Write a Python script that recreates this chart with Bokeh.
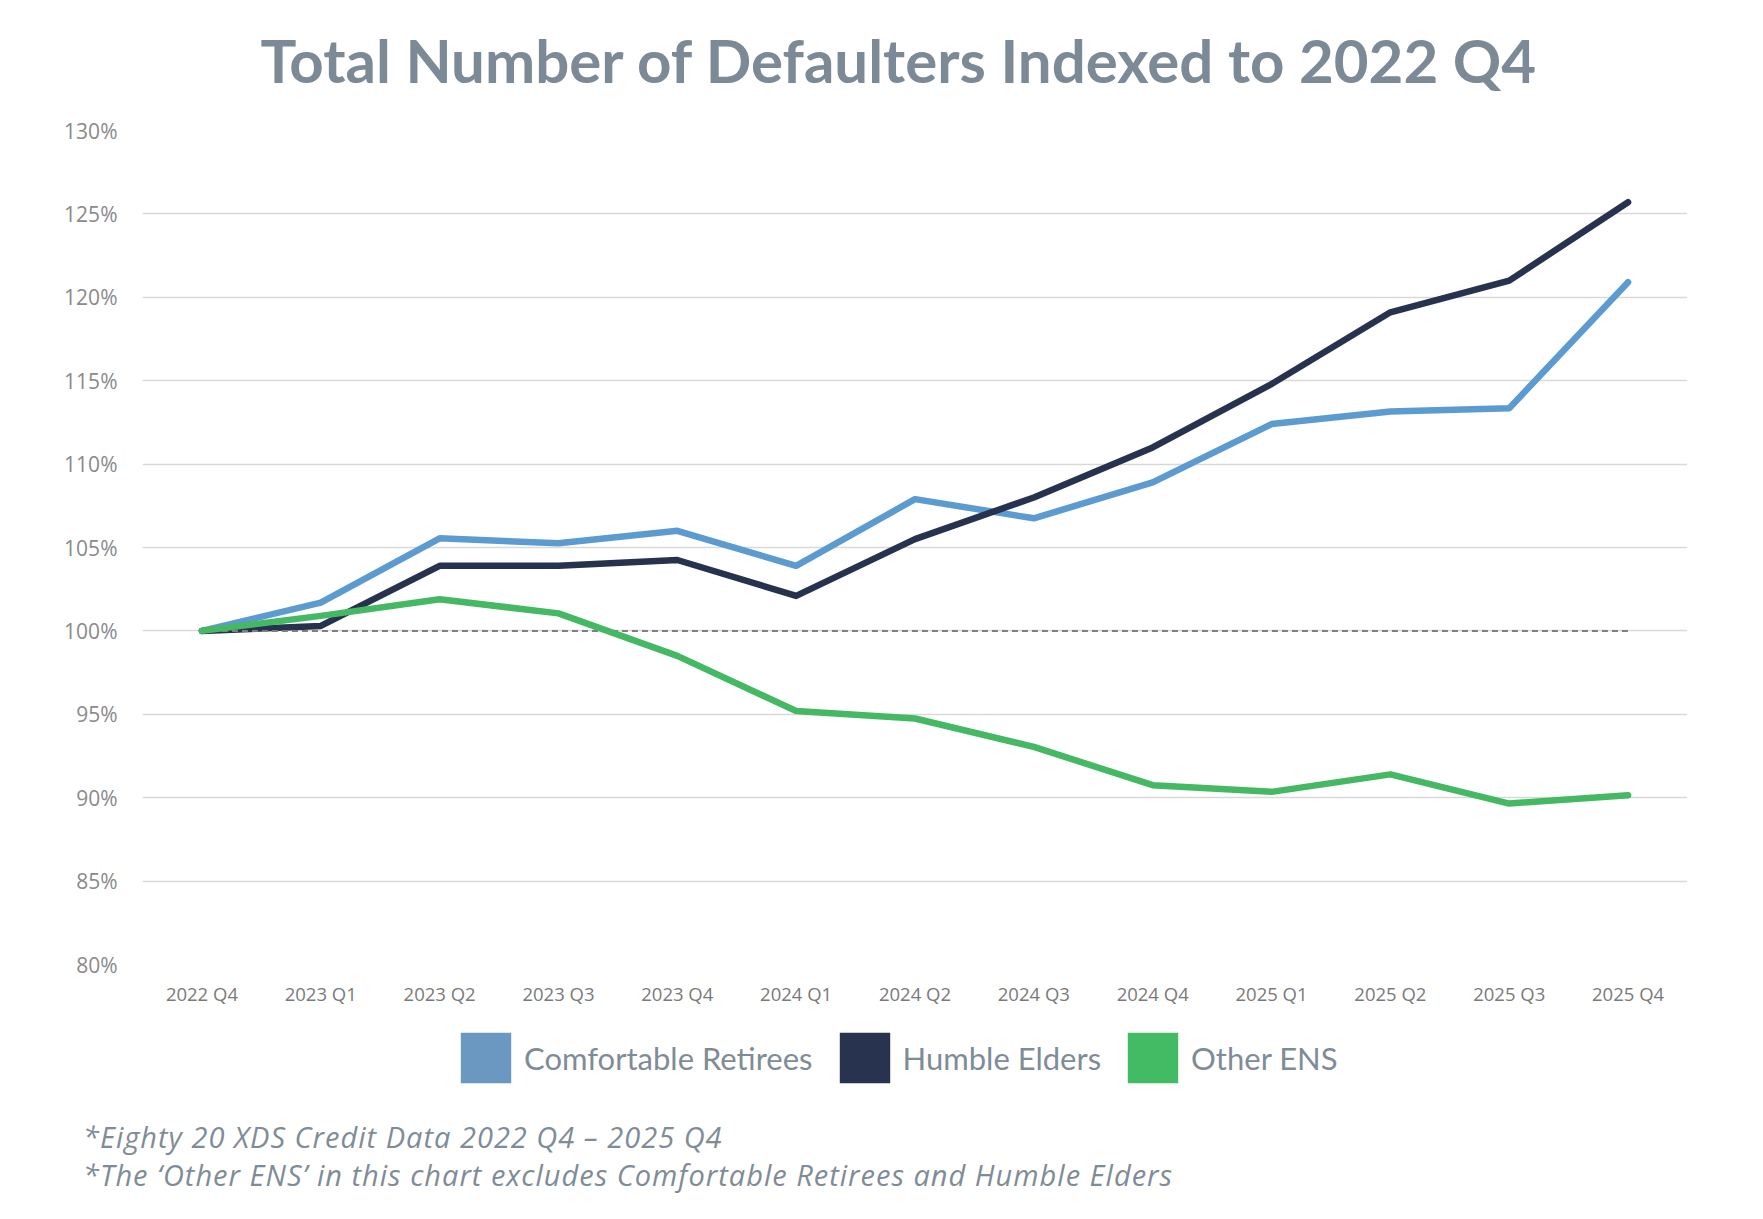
from bokeh.plotting import figure
from bokeh.layouts import column
from bokeh.models import (FactorRange, Range1d, FixedTicker, PrintfTickFormatter,
                          Label, Legend, LegendItem, Div)
from bokeh.core.properties import value
from bokeh.embed import file_html
from bokeh.resources import INLINE

quarters = ["2022 Q4", "2023 Q1", "2023 Q2", "2023 Q3", "2023 Q4", "2024 Q1", "2024 Q2",
            "2024 Q3", "2024 Q4", "2025 Q1", "2025 Q2", "2025 Q3", "2025 Q4"]
comfortable_retirees = [100, 101.7, 105.55, 105.25, 106.0, 103.9, 107.9, 106.75, 108.9,
                        112.4, 113.15, 113.35, 120.9]
humble_elders = [100, 100.3, 103.9, 103.9, 104.25, 102.1, 105.5, 108.0, 111.0,
                 114.8, 119.1, 121.0, 125.7]
other_ens = [100, 100.9, 101.9, 101.05, 98.5, 95.2, 94.75, 93.05, 90.75,
             90.35, 91.4, 89.65, 90.15]
baseline = [100] * len(quarters)
y_ticks = [80, 85, 90, 95, 100, 105, 110, 115, 120, 125, 130]

series_names = ["Comfortable Retirees", "Humble Elders", "Other ENS"]
title_text = "Total Number of Defaulters Indexed to 2022 Q4"
note1 = "*Eighty 20 XDS Credit Data 2022 Q4 \u2013 2025 Q4"
note2 = "*The \u2018Other ENS\u2019 in this chart excludes Comfortable Retirees and Humble Elders"

W = 1747
TOP_H = 110            # title strip: page y 0..110
MAIN_TOP, MAIN_BOTTOM = 110, 1020
LEG_H = 80             # legend strip: page y 1020..1100
NOTE_TOP, NOTE_H = 1100, 100
FL, FR, FT, FB = 142, 1687, 130, 964   # frame edges in page pixels

SLATE = "#7b8a96"
NOTE = "#7f8c97"


def blank_strip(h):
    f = figure(width=W, height=h, x_range=Range1d(FL, FR), y_range=Range1d(0, h),
               x_axis_type=None, y_axis_type=None, output_backend="svg",
               toolbar_location=None, min_border_left=FL, min_border_right=W - FR,
               min_border_top=0, min_border_bottom=0)
    f.outline_line_color = None
    f.xgrid.grid_line_color = None
    f.ygrid.grid_line_color = None
    return f


# ---- title strip
top = blank_strip(TOP_H)
top.add_layout(Label(x=899, y=TOP_H - 59, text=title_text, text_align="center",
                     text_baseline="alphabetic", text_font="Lato", text_font_size="60px",
                     text_font_style="bold", text_color=SLATE))

# ---- main chart
p = figure(width=W, height=MAIN_BOTTOM - MAIN_TOP,
           x_range=FactorRange(*quarters, range_padding=0),
           y_range=Range1d(80, 130), output_backend="svg", toolbar_location=None,
           min_border_left=FL, min_border_right=W - FR,
           min_border_top=FT - MAIN_TOP, min_border_bottom=MAIN_BOTTOM - FB)
p.outline_line_color = None

p.yaxis.ticker = FixedTicker(ticks=y_ticks)
p.yaxis.formatter = PrintfTickFormatter(format="%d%%")
p.yaxis.axis_line_color = None
p.yaxis.major_tick_line_color = None
p.yaxis.minor_tick_line_color = None
p.yaxis.major_label_standoff = 19
p.yaxis.major_label_text_font = "Open Sans"
p.yaxis.major_label_text_font_size = "21px"
p.yaxis.major_label_text_color = "#8a8a8a"

p.xaxis.axis_line_color = None
p.xaxis.major_tick_line_color = None
p.xaxis.minor_tick_line_color = None
p.xaxis.major_label_standoff = 10
p.xaxis.major_label_text_font = "Open Sans"
p.xaxis.major_label_text_font_size = "18.5px"
p.xaxis.major_label_text_color = "#7a7a7a"

p.xgrid.grid_line_color = None
p.ygrid.grid_line_color = "#d9d9d9"
p.ygrid.grid_line_width = 1.5

line_colors = ["#5b9bd0", "#27324f", "#45b864"]
swatch_colors = ["#6b98c0", "#283350", "#43bb65"]

p.line(quarters, comfortable_retirees, line_color=line_colors[0], line_width=6.5,
       line_join="round", line_cap="round")
p.line(quarters, humble_elders, line_color=line_colors[1], line_width=6.5,
       line_join="round", line_cap="round")
p.line(quarters, baseline, line_color="#7f7f7f", line_width=2, line_dash="6 4")
p.line(quarters, other_ens, line_color=line_colors[2], line_width=6.5,
       line_join="round", line_cap="round")

# ---- legend strip (legend proxies hold a single NaN so nothing is drawn in the plot)
leg = blank_strip(LEG_H)
nan = float("nan")
items = []
for name, col in zip(series_names, swatch_colors):
    r = leg.quad(left=[nan], right=[nan], top=[nan], bottom=[nan],
                 fill_color=col, line_color=None)
    items.append(LegendItem(label=value(name), renderers=[r]))
GW = 63                 # Bokeh insets area swatches by 10% per side -> ~50px visible
INSET = 6
legend = Legend(items=items, orientation="horizontal",
                location=(460 - INSET - FL, (MAIN_BOTTOM + LEG_H) - 1083 - INSET),
                glyph_width=GW, glyph_height=GW, label_standoff=13 - INSET,
                spacing=26 - INSET,
                padding=0, margin=0, border_line_color=None, background_fill_alpha=0,
                label_text_font="Lato", label_text_font_size="31px",
                label_text_color=NOTE, label_text_baseline="middle")
leg.add_layout(legend)

# ---- notes
fs = 29
asc = round(fs * 0.888)
note_style = ("position:absolute; left:83px; white-space:nowrap; font-family:'Open Sans';"
              f" font-style:italic; font-size:{fs}px; line-height:{fs}px; color:{NOTE};"
              " letter-spacing:1px;")
notes_html = (f'<div style="position:relative; width:{W}px; height:{NOTE_H}px;">'
              f'<div style="{note_style} top:{1148 - NOTE_TOP - asc}px;">{note1}</div>'
              f'<div style="{note_style} top:{1186 - NOTE_TOP - asc}px;">{note2}</div>'
              '</div>')
notes = Div(text=notes_html, width=W, height=NOTE_H, margin=0)

layout = column(top, p, leg, notes, spacing=0)
open("out.html", "w").write(file_html(layout, INLINE))
